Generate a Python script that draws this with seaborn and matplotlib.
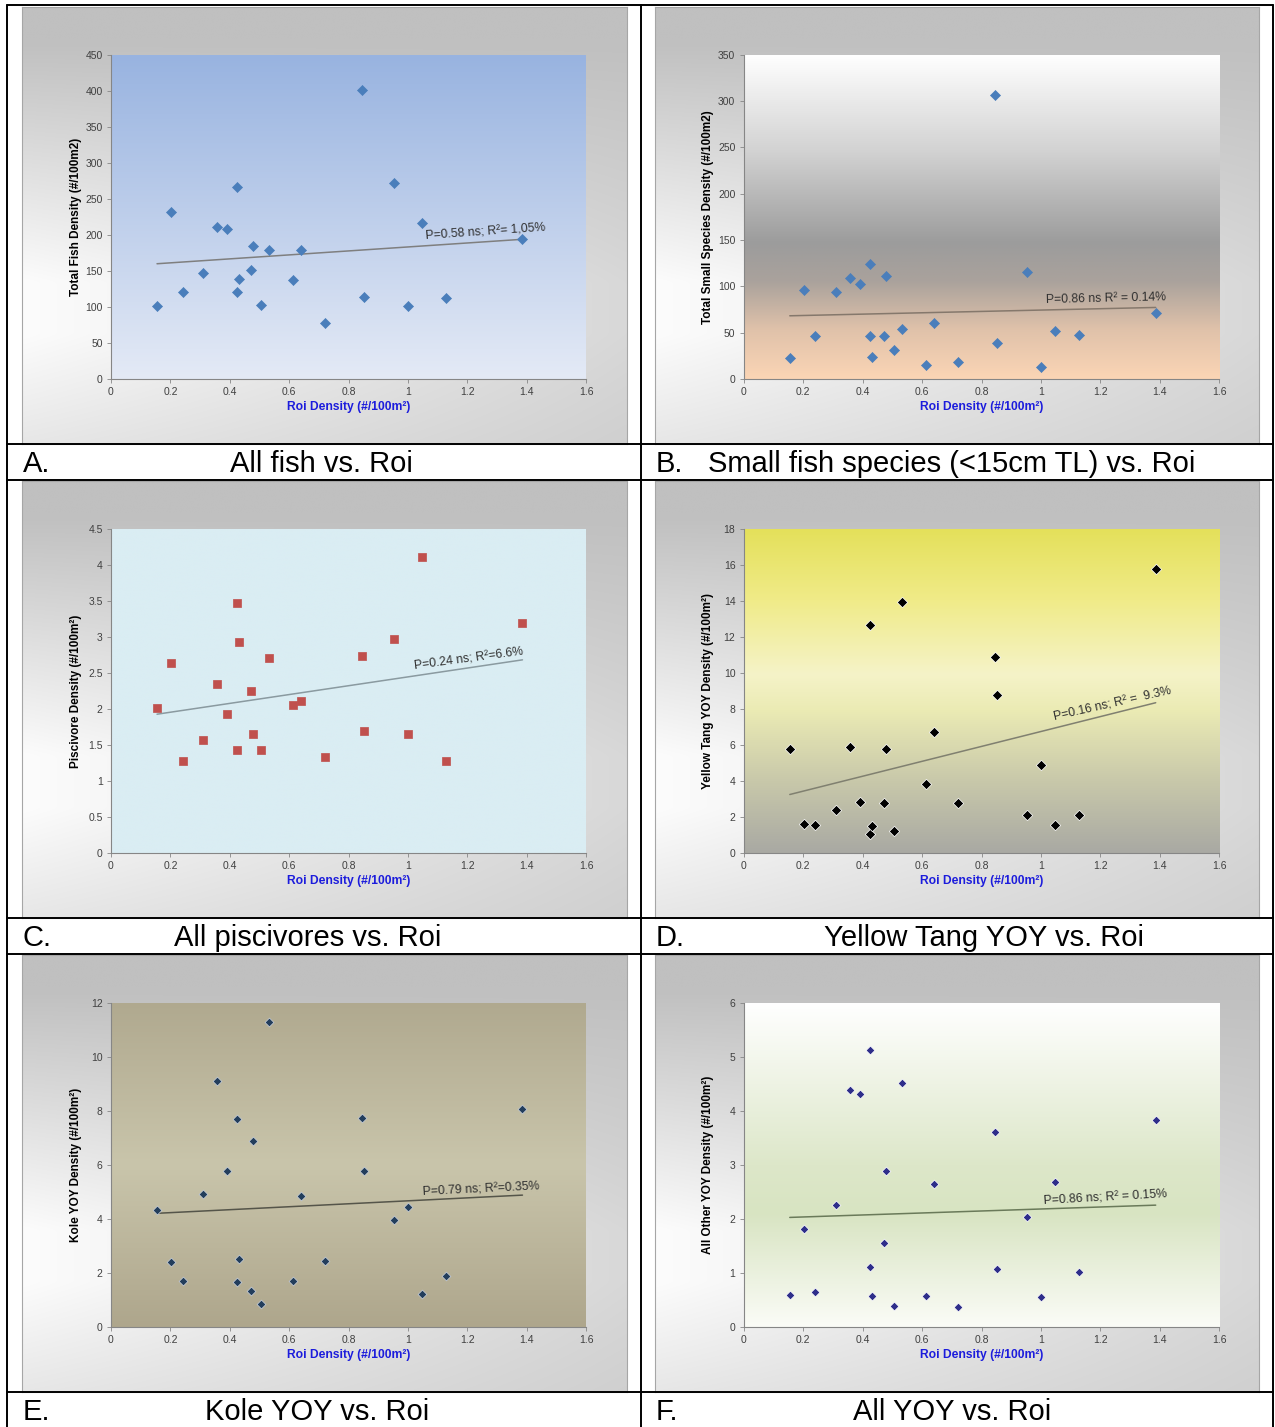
import numpy as np
import pandas as pd
import matplotlib
matplotlib.use("Agg")
import matplotlib.pyplot as plt
import seaborn as sns
from matplotlib.colors import to_rgb
from matplotlib.lines import Line2D
from matplotlib.ticker import FuncFormatter

# --- data (same 23 sites in every panel) ---
roi = [0.155, 0.202, 0.241, 0.310, 0.357, 0.391, 0.424, 0.424, 0.431, 0.471, 0.479, 0.506,
       0.532, 0.614, 0.641, 0.722, 0.844, 0.851, 0.952, 0.999, 1.046, 1.128, 1.386]
total_fish = [101.6, 232, 120.6, 147, 211, 208, 266.6, 120.6, 138.6, 151.6, 184, 102,
              179, 138, 179, 78, 400.6, 114, 272, 101.6, 216, 112.7, 194.5]
small_species = [23, 96, 46.4, 94.2, 108.6, 103, 123.7, 46.8, 23.7, 46.4, 111.5, 31,
                 53.6, 15, 60.8, 18, 306.8, 39.2, 115, 13, 52, 47.5, 70.9]
piscivore = [2.006, 2.643, 1.271, 1.562, 2.347, 1.927, 3.475, 1.433, 2.934, 2.246, 1.65, 1.423,
             2.708, 2.056, 2.107, 1.331, 2.74, 1.696, 2.967, 1.65, 4.113, 1.275, 3.193]
yellow_tang = [5.75, 1.59, 1.57, 2.37, 5.91, 2.81, 12.66, 1.07, 1.48, 2.77, 5.79, 1.22,
               13.92, 3.81, 6.69, 2.77, 10.89, 8.78, 2.09, 4.90, 1.57, 2.09, 15.79]
kole = [4.34, 2.42, 1.69, 4.92, 9.11, 5.77, 7.70, 1.66, 2.50, 1.33, 6.87, 0.86,
        11.27, 1.69, 4.86, 2.46, 7.75, 5.76, 3.95, 4.44, 1.23, 1.87, 8.07]
other_yoy = [0.598, 1.818, 0.641, 2.249, 4.393, 4.313, 5.126, 1.103, 0.579, 1.553, 2.883, 0.382,
             4.522, 0.573, 2.649, 0.376, 3.617, 1.066, 2.039, 0.561, 2.686, 1.010, 3.838]

letters = ["A.", "B.", "C.", "D.", "E.", "F."]
captions = ["All fish vs. Roi", "Small fish species (<15cm TL) vs. Roi", "All piscivores vs. Roi",
            "Yellow Tang YOY vs. Roi", "Kole YOY vs. Roi", "All YOY vs. Roi"]
y_labels = ["Total Fish Density (#/100m2)", "Total Small Species Density (#/100m2)",
            "Piscivore Density (#/100m²)", "Yellow Tang YOY Density (#/100m²)",
            "Kole YOY Density (#/100m²)", "All Other YOY Density (#/100m²)"]
fit_notes = ["P=0.58 ns; R²= 1,05%", "P=0.86 ns R² = 0.14%", "P=0.24 ns; R²=6.6%",
             "P=0.16 ns; R² =  9.3%", "P=0.79 ns; R²=0.35%", "P=0.86 ns; R² = 0.15%"]
y_cols = ["total_fish", "small_species", "piscivore", "yellow_tang", "kole", "other_yoy"]
x_label = "Roi Density (#/100m²)"

df = pd.DataFrame({"roi": roi, "total_fish": total_fish, "small_species": small_species,
                   "piscivore": piscivore, "yellow_tang": yellow_tang, "kole": kole,
                   "other_yoy": other_yoy})

# --- per-panel styling ---
styles = [
    dict(ymax=450, ystep=50, marker="D", s=26, color="#4a7ebb", ec="#4a7ebb", line="#7f7f7f",
         grad=[(0, "#e4eaf6"), (1, "#98b3e0")], note_xy=(1.061, 192.9), rot=4.0),
    dict(ymax=350, ystep=50, marker="D", s=26, color="#4a7ebb", ec="#4a7ebb", line="#85786c",
         grad=[(0, "#fbd5b5"), (0.15, "#e0c2aa"), (0.3, "#aaa29c"), (0.42, "#9c9c9c"),
               (0.7, "#d2d2d2"), (1, "#ffffff")], note_xy=(1.018, 82.3), rot=1.3),
    dict(ymax=4.5, ystep=0.5, marker="s", s=28, color="#c0504d", ec="#c0504d", line="#8a9aa0",
         grad=[(0, "#daedf3"), (1, "#daedf3")], note_xy=(1.023, 2.55), rot=7.6),
    dict(ymax=18, ystep=2, marker="D", s=28, color="#000000", ec="#ffffff", line="#808070",
         grad=[(0, "#a9a9a3"), (0.22, "#c8c8aa"), (0.44, "#ebebb4"), (0.55, "#f5f3c8"),
               (0.78, "#f0eb88"), (1, "#e4e05a")], note_xy=(1.045, 7.33), rot=12.7),
    dict(ymax=12, ystep=2, marker="D", s=20, color="#233e5c", ec="#c8d0dc", line="#55554a",
         grad=[(0, "#aea68c"), (0.5, "#c9c5ab"), (1, "#b0a98f")], note_xy=(1.052, 4.87), rot=2.8),
    dict(ymax=6, ystep=1, marker="D", s=20, color="#2e2e8a", ec="#ffffff", line="#6a7a5a",
         grad=[(0, "#fbfcf7"), (0.35, "#d8e4c2"), (0.5, "#dde7c9"), (1, "#ffffff")],
         note_xy=(1.010, 2.27), rot=3.2),
]

sns.set_theme(style="white")
plt.rcParams["font.family"] = ["Liberation Sans", "DejaVu Sans"]

W, H = 1275, 1427
fig = plt.figure(figsize=(W / 100, H / 100), dpi=100)
fig.patch.set_facecolor("white")


def rect(x0, y0, x1, y1):
    return [x0 / W, 1 - y1 / H, (x1 - x0) / W, (y1 - y0) / H]


def vgrad(stops, n=256):
    pos = np.linspace(0, 1, n)
    p = [s[0] for s in stops]
    cols = np.array([to_rgb(s[1]) for s in stops])
    arr = np.stack([np.interp(pos, p, cols[:, k]) for k in range(3)], axis=-1)
    return np.repeat(arr[:, None, :], 2, axis=1)


# gray "chart area" gradient, lighter toward lower left
yy, xx = np.mgrid[0:1:200j, 0:1:200j]
vert = np.clip((yy - 0.08) / 0.55, 0, 1) - 0.35 * np.clip((yy - 0.75) / 0.25, 0, 1)
horiz = 1 - 0.6 * xx
gray = (192 + 60 * vert * horiz) / 255
outer = np.stack([gray, gray, gray], axis=-1)

col_img = [(22, 627), (655, 1259)]
col_plot = [(111, 586), (743.7, 1219.3)]
row_step = 474

for i, st in enumerate(styles):
    r, c = divmod(i, 2)
    dy = r * row_step

    bg = fig.add_axes(rect(col_img[c][0], 7 + dy, col_img[c][1], 444 + dy))
    bg.imshow(outer, aspect="auto", extent=(0, 1, 0, 1), interpolation="bicubic")
    bg.set_xticks([])
    bg.set_yticks([])
    for sp in bg.spines.values():
        sp.set_color("#a6a6a6")
        sp.set_linewidth(0.8)

    ax = fig.add_axes(rect(col_plot[c][0], 54.7 + dy, col_plot[c][1], 379 + dy))
    ax.imshow(vgrad(st["grad"]), extent=(0, 1.6, 0, st["ymax"]), aspect="auto",
              origin="lower", interpolation="bicubic", zorder=0)

    sns.regplot(data=df, x="roi", y=y_cols[i], scatter=False, ci=None, truncate=True,
                line_kws=dict(color=st["line"], lw=1.1, zorder=2), ax=ax)
    sns.scatterplot(data=df, x="roi", y=y_cols[i], marker=st["marker"], s=st["s"],
                    color=st["color"], edgecolor=st["ec"], linewidth=0.5, zorder=3, ax=ax)

    ax.set_xlim(0, 1.6)
    ax.set_ylim(0, st["ymax"])
    ax.set_xticks(np.arange(0, 1.61, 0.2))
    ax.set_yticks(np.arange(0, st["ymax"] + st["ystep"] / 2, st["ystep"]))
    fmt = FuncFormatter(lambda v, p: f"{v:g}")
    ax.xaxis.set_major_formatter(fmt)
    ax.yaxis.set_major_formatter(fmt)
    ax.tick_params(axis="both", which="major", direction="out", length=3, width=0.6,
                   color="#868686", labelsize=7.5, labelcolor="#404040", pad=3,
                   bottom=True, left=True)
    for side in ["top", "right"]:
        ax.spines[side].set_visible(False)
    for side in ["left", "bottom"]:
        ax.spines[side].set_color("#868686")
        ax.spines[side].set_linewidth(0.8)

    ax.set_xlabel(x_label, fontsize=8.7, fontweight="bold", color="#1c1cdc")
    ax.set_ylabel(y_labels[i], fontsize=8.5, fontweight="bold", color="black")
    ax.xaxis.set_label_coords(0.5, -0.068)
    ax.yaxis.set_label_coords(-0.062, 0.5)

    nx, ny = st["note_xy"]
    ax.text(nx, ny, fit_notes[i], fontsize=8.8, color="#303030", rotation=st["rot"],
            rotation_mode="anchor", ha="left", va="baseline", zorder=4)

    # caption row under each chart
    cy = 464 + dy
    fig.text((col_img[c][0] + 0.5) / W, 1 - cy / H, letters[i], fontsize=21,
             ha="left", va="center", color="black")

cap_x = [230, 708, 174, 824, 205, 853]
for i, txt in enumerate(captions):
    r = i // 2
    fig.text(cap_x[i] / W, 1 - (464 + r * row_step) / H, txt, fontsize=21,
             ha="left", va="center", color="black")

# table rules
def hline(y, x0=7, x1=1273, lw=1.4):
    fig.add_artist(Line2D([x0 / W, x1 / W], [1 - y / H, 1 - y / H], color="black", lw=lw))


def vline(x, y0=5, y1=1427, lw=1.4):
    fig.add_artist(Line2D([x / W, x / W], [1 - y0 / H, 1 - y1 / H], color="black", lw=lw))


hline(5)
for r in range(3):
    hline(444 + r * row_step)
    if r < 2:
        hline(480 + r * row_step)
vline(7)
vline(641)
vline(1273)

fig.savefig("out.png", dpi=100)
